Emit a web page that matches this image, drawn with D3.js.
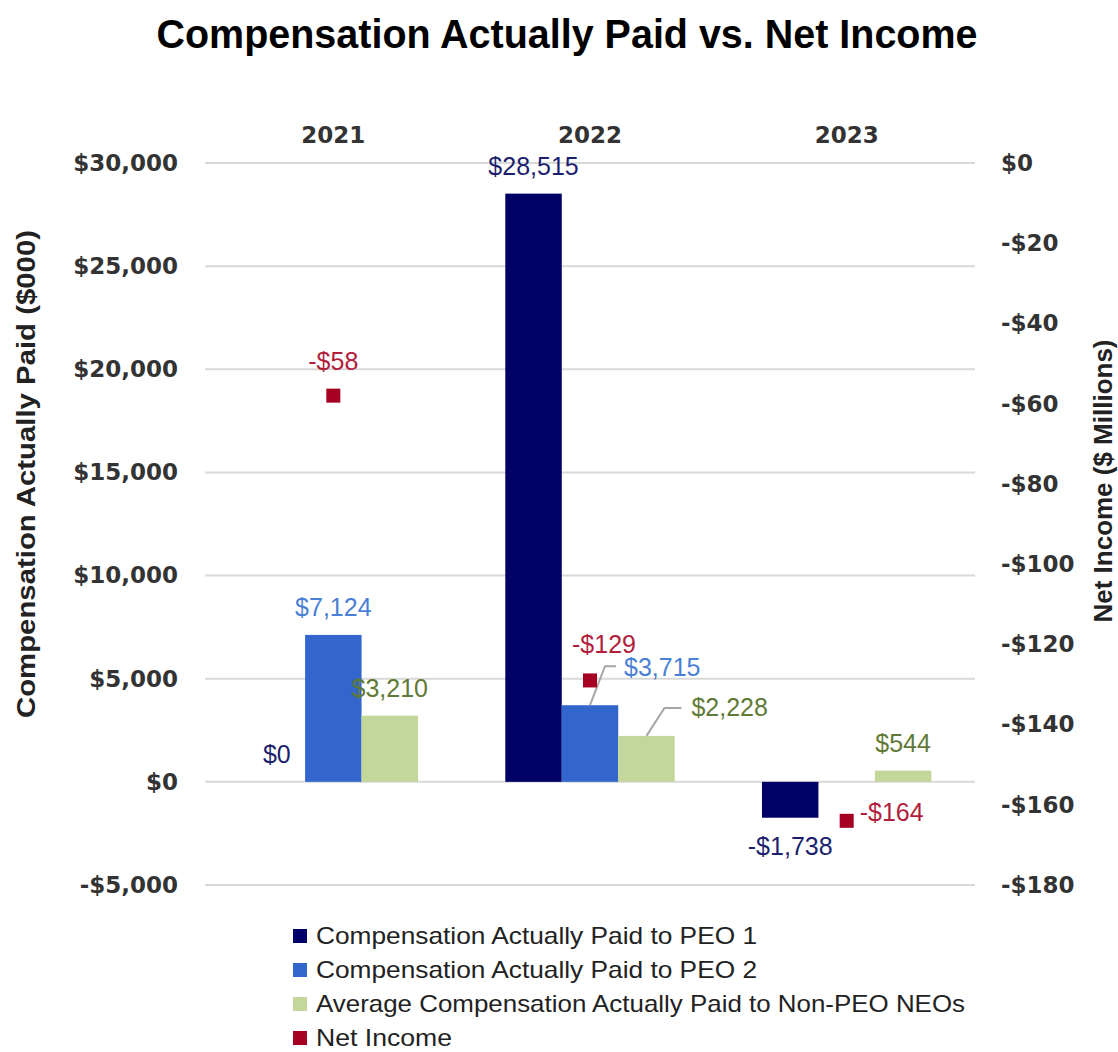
<!DOCTYPE html>
<html>
<head>
<meta charset="utf-8">
<script src="https://cdn.jsdelivr.net/npm/d3@7"></script>
<style>
  body { margin: 0; background: #fff; }
  svg { display: block; }
  .tick-label { font-family: "DejaVu Sans", sans-serif; font-weight: bold; font-size: 23px; fill: #333; }
  .data-label { font-family: "Liberation Sans", Arial, sans-serif; font-size: 25px; }
  .legend-text { font-family: "Liberation Sans Narrow", "Arial Narrow", "Liberation Sans", sans-serif; font-size: 24px; fill: #222; }
</style>
</head>
<body>
<div id="chart"></div>
<script>
const years = ['2021', '2022', '2023'];
const seriesKeys = ['peo1', 'peo2', 'neo'];
const seriesNames = [
  'Compensation Actually Paid to PEO 1',
  'Compensation Actually Paid to PEO 2',
  'Average Compensation Actually Paid to Non-PEO NEOs',
  'Net Income'
];
const peo1 = [0, 28515, -1738];
const peo2 = [7124, 3715, null];
const neo = [3210, 2228, 544];
const netIncome = [-58, -129, -164];
const leftTicks = [-5000, 0, 5000, 10000, 15000, 20000, 25000, 30000];
const rightTicks = [0, -20, -40, -60, -80, -100, -120, -140, -160, -180];

const width = 1118, height = 1052;
const plot = { left: 205, right: 975, top: 163, bottom: 885 };

const barColors = { peo1: '#000066', peo2: '#3366cc', neo: '#c4d79b' };
const labelColors = { peo1: '#1c1f6e', peo2: '#4a7fd6', neo: '#5f7a36', net: '#b01e3c' };
const netColor = '#a50021';

const values = { peo1: peo1, peo2: peo2, neo: neo };

const svg = d3.select('#chart').append('svg')
  .attr('width', width)
  .attr('height', height);

// title
svg.append('text')
  .attr('x', 567)
  .attr('y', 48)
  .attr('text-anchor', 'middle')
  .attr('textLength', 821)
  .attr('lengthAdjust', 'spacingAndGlyphs')
  .style('font-family', '"Liberation Sans Narrow", "Liberation Sans", sans-serif')
  .style('font-weight', 'bold')
  .style('font-size', '40px')
  .style('fill', '#000')
  .text('Compensation Actually Paid vs. Net Income');

const yLeft = d3.scaleLinear().domain([-5000, 30000]).range([plot.bottom, plot.top]);
const yRight = d3.scaleLinear().domain([-180, 0]).range([plot.bottom, plot.top]);

const x0 = d3.scaleBand()
  .domain(years)
  .range([plot.left, plot.right])
  .paddingInner(0.34)
  .paddingOuter(0.17);

const x1 = d3.scaleBand()
  .domain(seriesKeys)
  .range([0, x0.bandwidth()]);

// grid lines
svg.append('g')
  .attr('class', 'grid')
  .selectAll('line')
  .data(leftTicks)
  .enter()
  .append('line')
  .attr('x1', plot.left)
  .attr('x2', plot.right)
  .attr('y1', d => yLeft(d))
  .attr('y2', d => yLeft(d))
  .attr('stroke', '#d9d9d9')
  .attr('stroke-width', 2);

// left axis
const leftAxis = d3.axisLeft(yLeft)
  .tickValues(leftTicks)
  .tickSize(0)
  .tickPadding(27)
  .tickFormat(d => (d < 0 ? '-$' : '$') + d3.format(',')(Math.abs(d)));

const gl = svg.append('g')
  .attr('transform', `translate(${plot.left},0)`)
  .call(leftAxis);
gl.select('.domain').remove();
gl.selectAll('text').attr('class', 'tick-label');

// right axis
const rightAxis = d3.axisRight(yRight)
  .tickValues(rightTicks)
  .tickSize(0)
  .tickPadding(26)
  .tickFormat(d => (d < 0 ? '-$' : '$') + Math.abs(d));

const gr = svg.append('g')
  .attr('transform', `translate(${plot.right},0)`)
  .call(rightAxis);
gr.select('.domain').remove();
gr.selectAll('text').attr('class', 'tick-label');

// year labels on top
const topAxis = d3.axisTop(x0).tickSize(0).tickPadding(0);
const gt = svg.append('g')
  .attr('transform', 'translate(0,143)')
  .call(topAxis);
gt.select('.domain').remove();
gt.selectAll('text').attr('class', 'tick-label').attr('dy', 0);

// axis titles
svg.append('text')
  .attr('transform', 'translate(35,474) rotate(-90)')
  .attr('text-anchor', 'middle')
  .attr('textLength', 488)
  .attr('lengthAdjust', 'spacingAndGlyphs')
  .style('font-family', '"Liberation Sans", Arial, sans-serif')
  .style('font-weight', 'bold')
  .style('font-size', '26px')
  .style('fill', '#222')
  .text('Compensation Actually Paid ($000)');

svg.append('text')
  .attr('transform', 'translate(1112,481) rotate(-90)')
  .attr('text-anchor', 'middle')
  .attr('textLength', 283)
  .attr('lengthAdjust', 'spacingAndGlyphs')
  .style('font-family', '"Liberation Sans", Arial, sans-serif')
  .style('font-weight', 'bold')
  .style('font-size', '26px')
  .style('fill', '#222')
  .text('Net Income ($ Millions)');

// bars
const barData = [];
years.forEach((yr, i) => {
  seriesKeys.forEach(k => {
    const v = values[k][i];
    if (v !== null) barData.push({ year: yr, key: k, value: v });
  });
});

const bars = svg.append('g').attr('class', 'bars');
bars.selectAll('rect')
  .data(barData)
  .enter()
  .append('rect')
  .attr('x', d => x0(d.year) + x1(d.key))
  .attr('width', x1.bandwidth())
  .attr('y', d => Math.min(yLeft(d.value), yLeft(0)))
  .attr('height', d => Math.abs(yLeft(d.value) - yLeft(0)))
  .attr('fill', d => barColors[d.key]);

// bar labels; some have leader lines like the original
const leaders = {
  '2022-peo2': { elbow: [15, -39], end: [26, -39], text: [34, -38] },
  '2022-neo': { elbow: [18, -28], end: [35, -28], text: [45, -29] }
};

const fmt = d => (d < 0 ? '-$' : '$') + d3.format(',')(Math.abs(d));

const labels = svg.append('g').attr('class', 'labels');
barData.forEach(d => {
  const cx = x0(d.year) + x1(d.key) + x1.bandwidth() / 2;
  const top = yLeft(Math.max(d.value, 0));
  const bottom = yLeft(Math.min(d.value, 0));
  const ld = leaders[d.year + '-' + d.key];
  if (ld) {
    labels.append('polyline')
      .attr('points', [[cx, top], [cx + ld.elbow[0], top + ld.elbow[1]], [cx + ld.end[0], top + ld.end[1]]].map(p => p.join(',')).join(' '))
      .attr('fill', 'none')
      .attr('stroke', '#a6a6a6')
      .attr('stroke-width', 2);
    labels.append('text')
      .attr('class', 'data-label')
      .attr('x', cx + ld.text[0])
      .attr('y', top + ld.text[1])
      .attr('dy', '0.35em')
      .attr('text-anchor', 'start')
      .style('fill', labelColors[d.key])
      .text(fmt(d.value));
  } else if (d.value < 0) {
    labels.append('text')
      .attr('class', 'data-label')
      .attr('x', cx)
      .attr('y', bottom + 37)
      .attr('text-anchor', 'middle')
      .style('fill', labelColors[d.key])
      .text(fmt(d.value));
  } else {
    labels.append('text')
      .attr('class', 'data-label')
      .attr('x', cx)
      .attr('y', top - 19)
      .attr('text-anchor', 'middle')
      .style('fill', labelColors[d.key])
      .text(fmt(d.value));
  }
});

// net income markers
const netData = years.map((yr, i) => ({ year: yr, value: netIncome[i] }));
const mk = 14;
svg.append('g')
  .attr('class', 'markers')
  .selectAll('rect')
  .data(netData)
  .enter()
  .append('rect')
  .attr('x', d => x0(d.year) + x0.bandwidth() / 2 - mk / 2)
  .attr('y', d => yRight(d.value) - mk / 2)
  .attr('width', mk)
  .attr('height', mk)
  .attr('fill', netColor);

const netLabelPos = {
  '2021': { dx: 0, dy: -26, anchor: 'middle' },
  '2022': { dx: 14, dy: -27, anchor: 'middle' },
  '2023': { dx: 13, dy: 0, anchor: 'start' }
};

netData.forEach(d => {
  const p = netLabelPos[d.year];
  labels.append('text')
    .attr('class', 'data-label')
    .attr('x', x0(d.year) + x0.bandwidth() / 2 + p.dx)
    .attr('y', yRight(d.value) + p.dy)
    .attr('text-anchor', p.anchor)
    .style('fill', labelColors.net)
    .text('-$' + Math.abs(d.value));
});

// legend
const legendColors = [barColors.peo1, barColors.peo2, barColors.neo, netColor];
const legendWidths = [441, 441, 649, 136];
const legend = svg.append('g')
  .attr('class', 'legend')
  .selectAll('g')
  .data(seriesNames)
  .enter()
  .append('g')
  .attr('transform', (d, i) => `translate(293,${936 + i * 34})`);

legend.append('rect')
  .attr('x', 0)
  .attr('y', -7)
  .attr('width', 14)
  .attr('height', 14)
  .attr('fill', (d, i) => legendColors[i]);

legend.append('text')
  .attr('class', 'legend-text')
  .attr('x', 23)
  .attr('y', 0)
  .attr('dy', '0.35em')
  .attr('textLength', (d, i) => legendWidths[i])
  .attr('lengthAdjust', 'spacingAndGlyphs')
  .text(d => d);
</script>
</body>
</html>
